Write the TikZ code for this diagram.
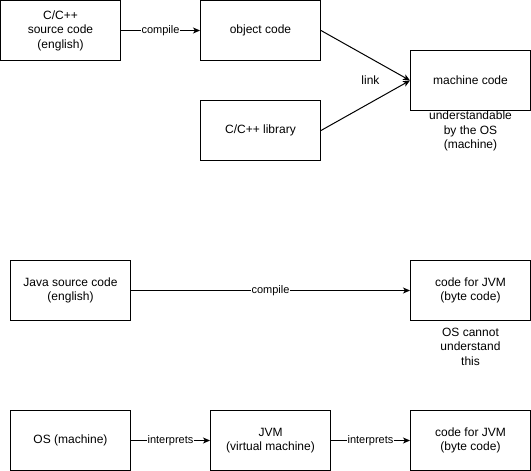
\documentclass[tikz,border=0pt]{standalone}
\usepackage{fontspec}
\setmainfont{Liberation Sans}
\usetikzlibrary{arrows.meta}
\begin{document}
\begin{tikzpicture}[x=1pt,y=-1pt,line width=1pt,
  box/.style={draw,line width=1pt,minimum width=120pt,minimum height=60pt,align=center,font=\fontsize{12}{14.4}\selectfont,inner sep=0pt},
  lbl/.style={font=\fontsize{11}{13}\selectfont,fill=white,inner sep=0.5pt},
  note/.style={align=center,font=\fontsize{12}{14.4}\selectfont,inner sep=0pt},
  arr/.style={-{Stealth[length=7pt,width=6pt,inset=2pt]},line width=1pt}]
\useasboundingbox (0,0) rectangle (531,471);
\node[box] (src) at (60.5,30.5) {C/C++\\source code\\(english)};
\node[box] (obj) at (260.5,30.5) {object code};
\node[box] (mc) at (470.5,80.5) {machine code};
\node[box] (lib) at (260.5,130.5) {C/C++ library};
\node[note] (mcn) at (470.5,131) {understandable\\by the OS\\(machine)};
\node[note] (link) at (370.5,80.5) {link};
\node[box] (java) at (70.5,290.5) {Java source code\\(english)};
\node[box] (jbc) at (470.5,290.5) {code for JVM\\(byte code)};
\node[note] (jbcn) at (470.5,346.5) {OS cannot\\understand\\this};
\node[box] (os) at (70.5,440.5) {OS (machine)};
\node[box] (jvm) at (270.5,440.5) {JVM\\(virtual machine)};
\node[box] (bc) at (470.5,440.5) {code for JVM\\(byte code)};
\draw[arr] (src) -- node[lbl]{compile} (obj);
\draw[arr] (obj.east) -- (mc.west);
\draw[arr] (lib.east) -- (mc.west);
\draw[arr] (java) -- node[lbl]{compile} (jbc);
\draw[arr] (os) -- node[lbl]{interprets} (jvm);
\draw[arr] (jvm) -- node[lbl]{interprets} (bc);
\end{tikzpicture}
\end{document}
